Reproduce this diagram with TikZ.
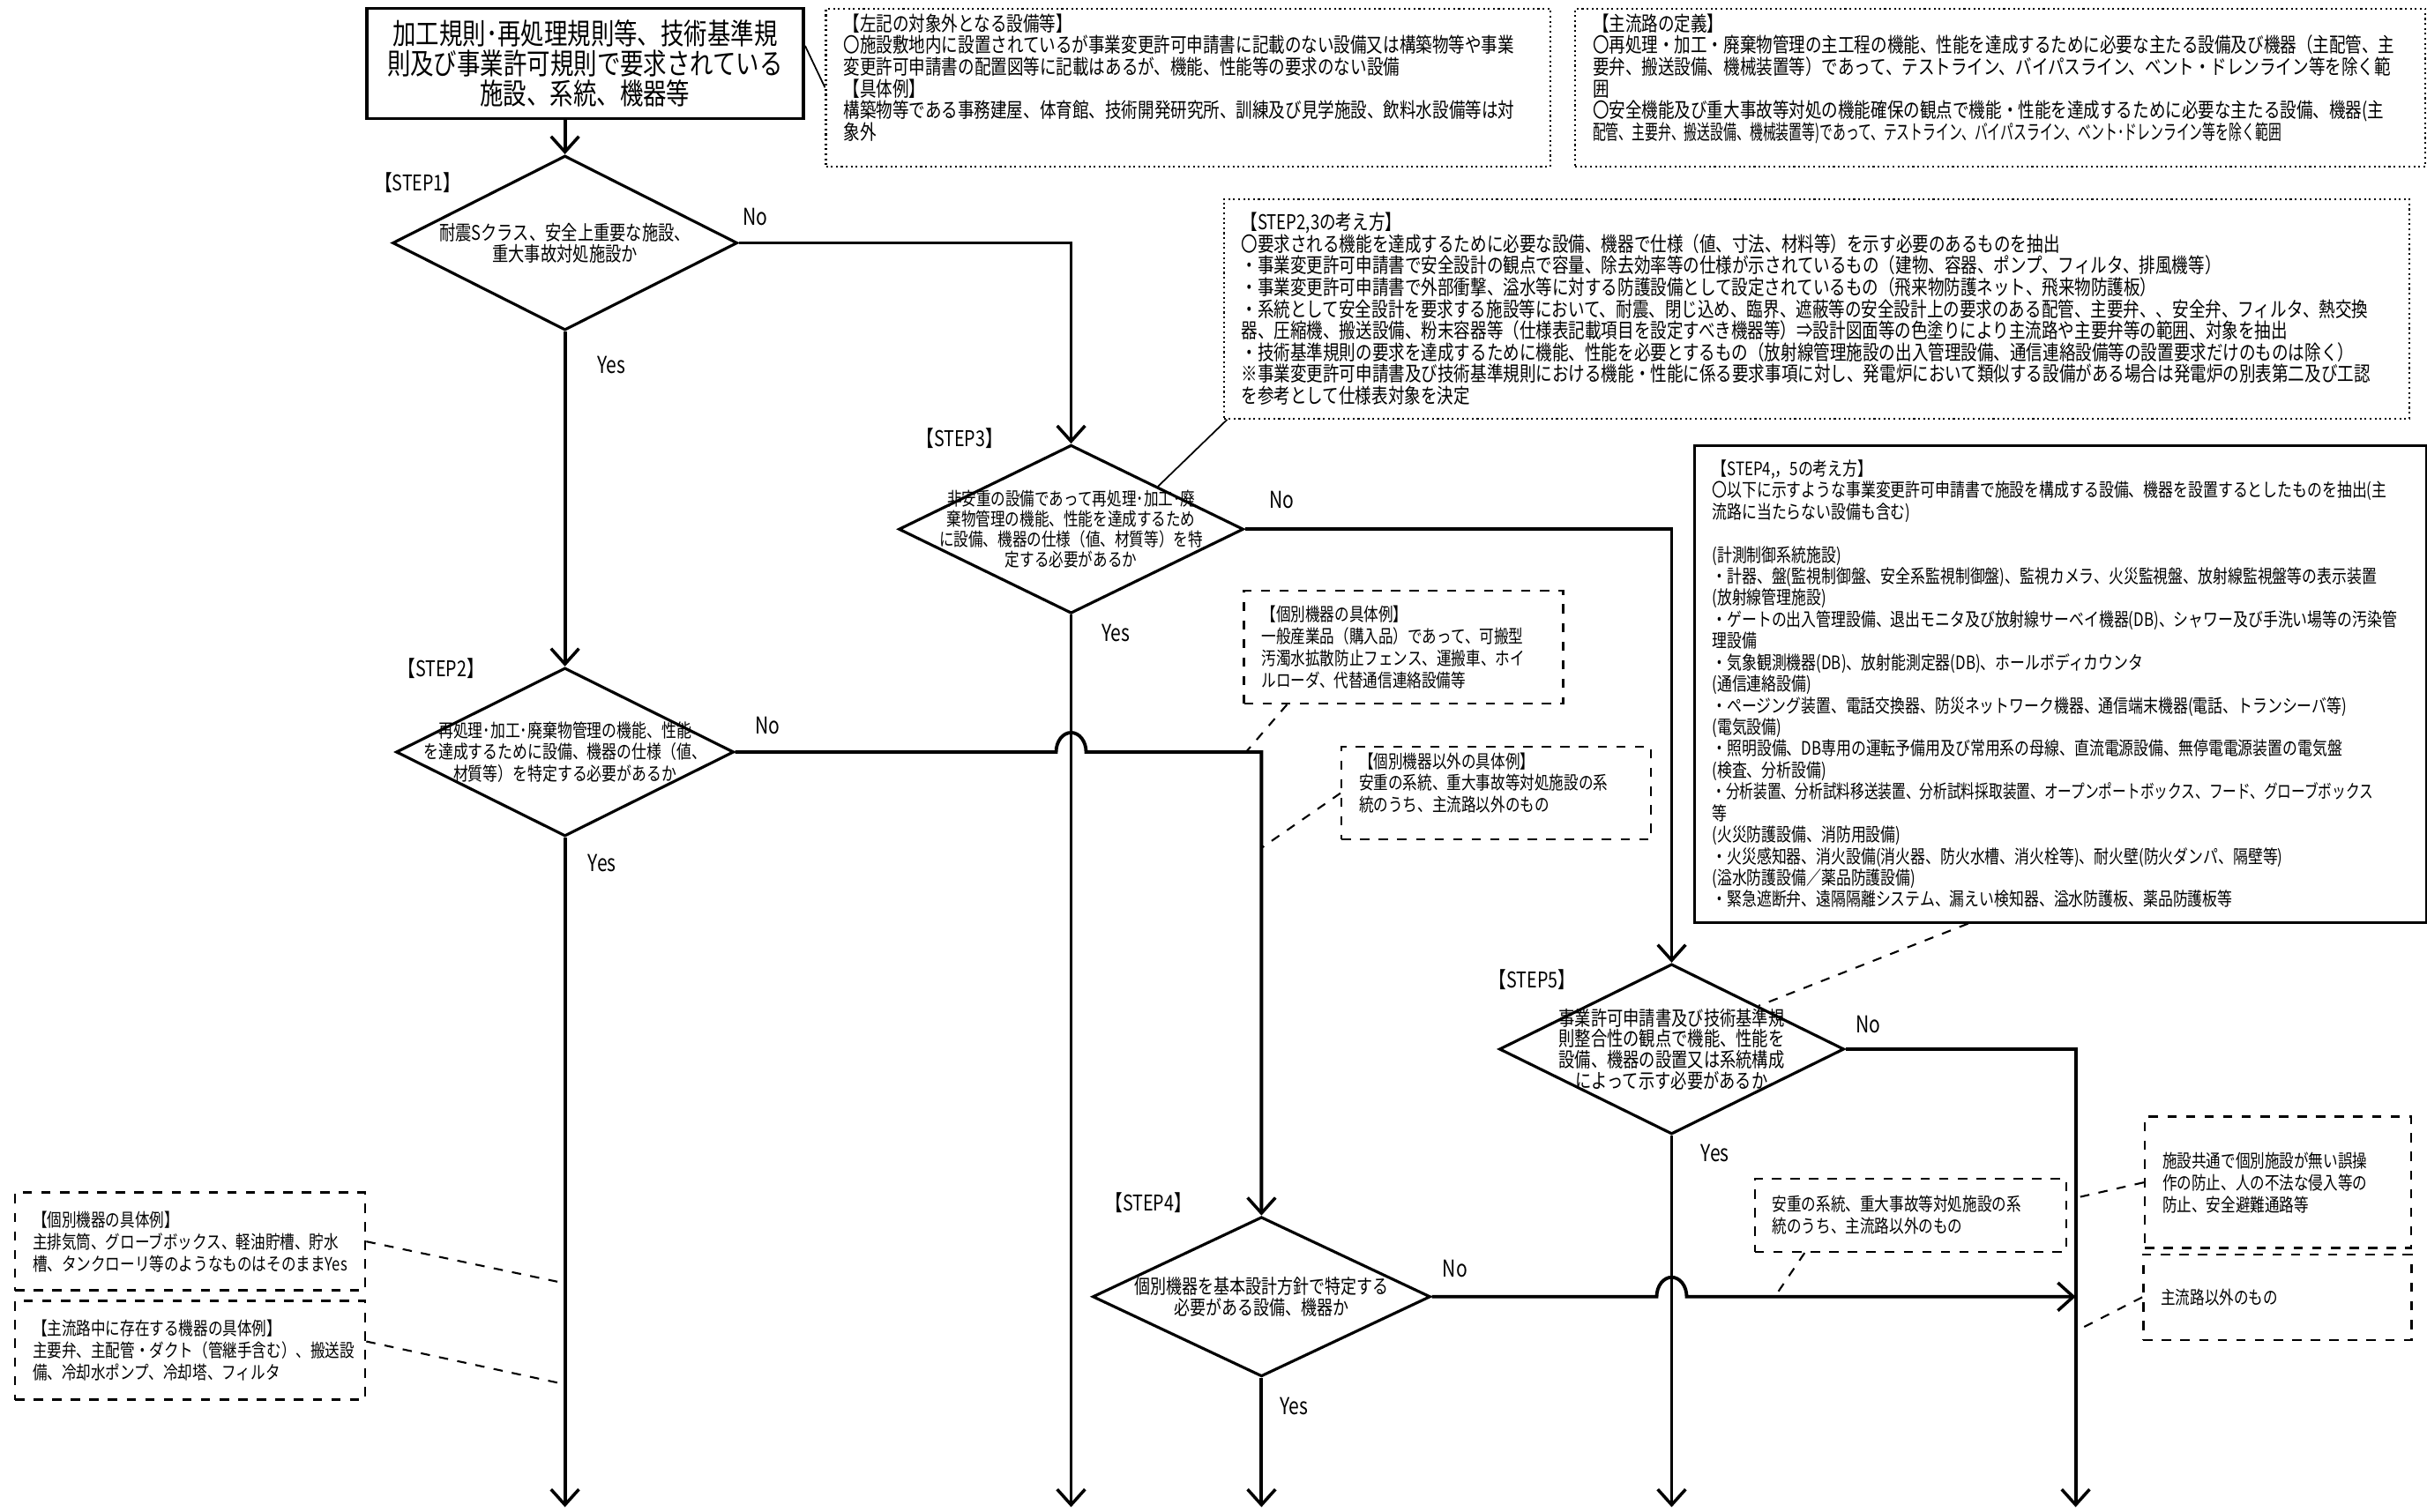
\documentclass[tikz,border=0pt]{standalone}
\usepackage{fontspec}
\setmainfont{Noto Sans CJK JP}[FakeStretch=0.8]
\usetikzlibrary{shapes.geometric, arrows.meta, positioning, calc}

\begin{document}
\begin{tikzpicture}[
        x=0.017551cm, y=-0.017551cm,
        >={Straight Barb[length=5pt, width=9pt, line width=1pt]},
        mainbox/.style={rectangle, draw, line width=1.1pt, align=center, inner sep=0pt, font=\fontsize{9.4}{9.7}\selectfont},
        defbox/.style={rectangle, draw, densely dotted, line width=0.6pt, anchor=north west, align=left, inner xsep=0.2cm, inner ysep=1pt, font=\fontsize{6.6}{7}\selectfont},
        listbox/.style={rectangle, draw, line width=0.8pt, anchor=north west, align=left, inner xsep=0.2cm, inner ysep=1pt, font=\fontsize{6.0}{6.95}\selectfont},
        exbox/.style={rectangle, draw, dashed, line width=0.7pt, anchor=north west, align=left, inner xsep=0.2cm, inner ysep=1pt, font=\fontsize{5.9}{7.1}\selectfont},
        decision/.style={diamond, draw, line width=0.9pt, inner sep=0pt},
        dtext/.style={align=center, inner sep=0pt, font=\fontsize{6.2}{6.8}\selectfont},
        steplabel/.style={font=\fontsize{7}{7}\selectfont},
        ans/.style={font=\fontsize{7.5}{7.5}\selectfont},
        flow/.style={->, line width=1.1pt},
        leader/.style={line width=0.5pt},
        dleader/.style={dashed, line width=0.6pt}
    ]
    \useasboundingbox (0,0) rectangle (1568,977);

    % --- Boxes (top row) ---
    \node[mainbox, minimum width=4.95cm, minimum height=1.25cm] (top) at (378,41)
        {加工規則･再処理規則等、技術基準規\\則及び事業許可規則で要求されている\\施設、系統、機器等};

    \node[defbox, minimum width=8.21cm, minimum height=1.79cm, text width=7.81cm] (outside) at (533,5)
        {【左記の対象外となる設備等】\\
         〇施設敷地内に設置されているが事業変更許可申請書に記載のない設備又は構築物等や事業\\
         変更許可申請書の配置図等に記載はあるが、機能、性能等の要求のない設備\\
         【具体例】\\
         構築物等である事務建屋、体育館、技術開発研究所、訓練及び見学施設、飲料水設備等は対\\
         象外\\ \mbox{}};

    \node[defbox, minimum width=9.64cm, minimum height=1.79cm, text width=9.24cm] (mainpath) at (1017,5)
        {【主流路の定義】\\
         〇再処理・加工・廃棄物管理の主工程の機能、性能を達成するために必要な主たる設備及び機器（主配管、主\\
         要弁、搬送設備、機械装置等）であって、テストライン、バイパスライン、ベント・ドレンライン等を除く範\\
         囲\\
         〇安全機能及び重大事故等対処の機能確保の観点で機能・性能を達成するために必要な主たる設備、機器(主\\
         \scalebox{0.8}[1]{配管、主要弁、搬送設備、機械装置等)であって、テストライン、バイパスライン、ベント･ドレンライン等を除く範囲}\\ \mbox{}};

    % STEP2,3 explanation
    \node[defbox, minimum width=13.44cm, minimum height=2.49cm, text width=13.04cm] (idea23) at (790,128)
        {【STEP2,3の考え方】\\
         〇要求される機能を達成するために必要な設備、機器で仕様（値、寸法、材料等）を示す必要のあるものを抽出\\
         ・事業変更許可申請書で安全設計の観点で容量、除去効率等の仕様が示されているもの（建物、容器、ポンプ、フィルタ、排風機等）\\
         ・事業変更許可申請書で外部衝撃、溢水等に対する防護設備として設定されているもの（飛来物防護ネット、飛来物防護板）\\
         ・系統として安全設計を要求する施設等において、耐震、閉じ込め、臨界、遮蔽等の安全設計上の要求のある配管、主要弁、、安全弁、フィルタ、熱交換\\
         器、圧縮機、搬送設備、粉末容器等（仕様表記載項目を設定すべき機器等）⇒設計図面等の色塗りにより主流路や主要弁等の範囲、対象を抽出\\
         ・技術基準規則の要求を達成するために機能、性能を必要とするもの（放射線管理施設の出入管理設備、通信連絡設備等の設置要求だけのものは除く）\\
         ※事業変更許可申請書及び技術基準規則における機能・性能に係る要求事項に対し、発電炉において類似する設備がある場合は発電炉の別表第二及び工認\\
         を参考として仕様表対象を決定};

    % STEP4,5 explanation
    \node[listbox, minimum width=8.30cm, minimum height=5.41cm, text width=7.90cm] (idea45) at (1094,287)
        {【STEP4,，5の考え方】\\
         〇以下に示すような事業変更許可申請書で施設を構成する設備、機器を設置するとしたものを抽出(主\\
         流路に当たらない設備も含む)\\[6.95pt]
         (計測制御系統施設)\\
         ・計器、盤(監視制御盤、安全系監視制御盤)、監視カメラ、火災監視盤、放射線監視盤等の表示装置\\
         (放射線管理施設)\\
         ・ゲートの出入管理設備、退出モニタ及び放射線サーベイ機器(DB)、シャワー及び手洗い場等の汚染管\\
         理設備\\
         ・気象観測機器(DB)、放射能測定器(DB)、ホールボディカウンタ\\
         (通信連絡設備)\\
         ・ページング装置、電話交換器、防災ネットワーク機器、通信端末機器(電話、トランシーバ等)\\
         (電気設備)\\
         ・照明設備、DB専用の運転予備用及び常用系の母線、直流電源設備、無停電電源装置の電気盤\\
         (検査、分析設備)\\
         \scalebox{0.93}[1]{・分析装置、分析試料移送装置、分析試料採取装置、オープンポートボックス、フード、グローブボックス}\\
         等\\
         (火災防護設備、消防用設備)\\
         ・火災感知器、消火設備(消火器、防火水槽、消火栓等)、耐火壁(防火ダンパ、隔壁等)\\
         (溢水防護設備／薬品防護設備)\\
         ・緊急遮断弁、遠隔隔離システム、漏えい検知器、溢水防護板、薬品防護板等};

    % --- Decisions ---
    \node[decision, minimum width=3.91cm, minimum height=1.98cm] (s1) at (365,157) {};
    \node[dtext, font=\fontsize{6.5}{6.8}\selectfont] (s1t) at (s1) {耐震Sクラス、安全上重要な施設、\\重大事故対処施設か};
    \node[steplabel] (st1) at (270,118) {【STEP1】};

    \node[decision, minimum width=3.83cm, minimum height=1.91cm] (s2) at (365,486) {};
    \node[dtext, font=\fontsize{6}{7}\selectfont] (s2t) at (s2) {再処理･加工･廃棄物管理の機能、性能\\を達成するために設備、機器の仕様（値、\\材質等）を特定する必要があるか};
    \node[steplabel] (st2) at (285,432) {【STEP2】};

    \node[decision, minimum width=3.91cm, minimum height=1.91cm] (s3) at (692,342) {};
    \node[dtext, font=\fontsize{5.9}{6.6}\selectfont] (s3t) at (s3) {非安重の設備であって再処理･加工･廃\\棄物管理の機能、性能を達成するため\\に設備、機器の仕様（値、材質等）を特\\定する必要があるか};
    \node[steplabel] (st3) at (620,283) {【STEP3】};

    \node[decision, minimum width=3.83cm, minimum height=1.81cm] (s4) at (815,838) {};
    \node[dtext, font=\fontsize{6.4}{7}\selectfont] (s4t) at (s4) {個別機器を基本設計方針で特定する\\必要がある設備、機器か};
    \node[steplabel] (st4) at (742,777) {【STEP4】};

    \node[decision, minimum width=3.91cm, minimum height=1.93cm] (s5) at (1080,678) {};
    \node[dtext, font=\fontsize{6.5}{6.7}\selectfont] (s5t) at (s5) {事業許可申請書及び技術基準規\\則整合性の観点で機能、性能を\\設備、機器の設置又は系統構成\\によって示す必要があるか};
    \node[steplabel] (st5) at (990,633) {【STEP5】};

    % --- Example boxes ---
    \node[exbox, minimum width=3.62cm, minimum height=1.28cm, text width=3.22cm] (ex3) at (803,381)
        {【個別機器の具体例】\\一般産業品（購入品）であって、可搬型\\汚濁水拡散防止フェンス、運搬車、ホイ\\ルローダ、代替通信連絡設備等};
    \node[exbox, minimum width=3.51cm, minimum height=1.05cm, text width=3.11cm] (ex3b) at (866,482)
        {【個別機器以外の具体例】\\安重の系統、重大事故等対処施設の系\\統のうち、主流路以外のもの\\ \mbox{}};
    \node[exbox, minimum width=3.53cm, minimum height=0.83cm, text width=3.13cm] (ex4) at (1133,761)
        {安重の系統、重大事故等対処施設の系\\統のうち、主流路以外のもの};
    \node[exbox, minimum width=3.02cm, minimum height=1.49cm, text width=2.62cm] (ex5a) at (1385,721)
        {施設共通で個別施設が無い誤操\\作の防止、人の不法な侵入等の\\防止、安全避難通路等};
    \node[exbox, minimum width=3.04cm, minimum height=0.97cm, text width=2.64cm] (ex5b) at (1384,810)
        {主流路以外のもの};
    \node[exbox, minimum width=3.97cm, minimum height=1.11cm, text width=3.57cm] (ex1a) at (9,770)
        {【個別機器の具体例】\\主排気筒、グローブボックス、軽油貯槽、貯水\\槽、タンクローリ等のようなものはそのままYes};
    \node[exbox, minimum width=3.97cm, minimum height=1.12cm, text width=3.57cm] (ex1b) at (9,840)
        {【主流路中に存在する機器の具体例】\\主要弁、主配管・ダクト（管継手含む）、搬送設\\備、冷却水ポンプ、冷却塔、フィルタ};

    % --- Yes / No ---
    \node[ans] (no1) at (488,140) {No};
    \node[ans] (yes1) at (395,236) {Yes};
    \node[ans] (no2) at (496,469) {No};
    \node[ans] (yes2) at (389,558) {Yes};
    \node[ans] (no3) at (828,323) {No};
    \node[ans] (yes3) at (721,409) {Yes};
    \node[ans] (no4) at (940,820) {No};
    \node[ans] (yes4) at (836,909) {Yes};
    \node[ans] (no5) at (1207,662) {No};
    \node[ans] (yes5) at (1108,745) {Yes};

    % --- Free ends and crossings ---
    \coordinate (e1) at (365,974);
    \coordinate (e2) at (815,974);
    \coordinate (e3) at (692,974);
    \coordinate (e4) at (1080,974);
    \coordinate (e5) at (1341,974);
    \coordinate (x2) at (s3.south |- s2.east);
    \coordinate (x4) at (s5.south |- s4.east);
    \coordinate (k2) at (s4.north |- s2.east);

    % --- Flow ---
    \draw[flow] (top.south -| s1.north) -- (s1.north);
    \draw[flow] (s1.east) -| (s3.north);
    \draw[flow] (s1.south) -- (s2.north);
    \draw[flow] (s3.east) -| (s5.north);
    \draw[flow] (s3.south) -- (e3);
    \draw[flow] (s2.east) -- ([xshift=-0.17cm]x2) arc[start angle=180, end angle=0, x radius=0.17cm, y radius=0.22cm] -| (s4.north);
    \draw[flow] (s2.south) -- (e1);
    \draw[flow] (s4.east) -- ([xshift=-0.17cm]x4) arc[start angle=180, end angle=0, x radius=0.17cm, y radius=0.22cm] -- (s4.east -| e5);
    \draw[flow] (s4.south) -- (e2);
    \draw[flow] (s5.east) -| (e5);
    \draw[flow] (s5.south) -- (e4);

    % --- Leaders ---
    \draw[leader] ([yshift=0.2cm]top.east) -- (outside.west);
    \draw[leader] (s3.north east) -- ([xshift=0.05cm]idea23.south west);
    \draw[dleader] ([xshift=-1.05cm]idea45.south) -- (s5.north east);
    \draw[dleader] ([xshift=0.5cm]ex3.south west) -- ($(k2)+(-10,0)$);
    \draw[dleader] (ex3b.west) -- ($(k2)+(0,62)$);
    \draw[dleader] ([xshift=-1.2cm]ex4.south) -- ($(x4)+(68,-2)$);
    \draw[dleader] (ex5a.west) -- ($(ex5a.west -| e5)+(0,10)$);
    \draw[dleader] (ex5b.west) -- ($(ex5b.west -| e5)+(0,22)$);
    \draw[dleader] (ex1a.east) -- ($(ex1a.east -| e1)+(0,27)$);
    \draw[dleader] ([yshift=0.1cm]ex1b.east) -- ($(ex1b.east -| e1)+(0,22)$);

\end{tikzpicture}
\end{document}
